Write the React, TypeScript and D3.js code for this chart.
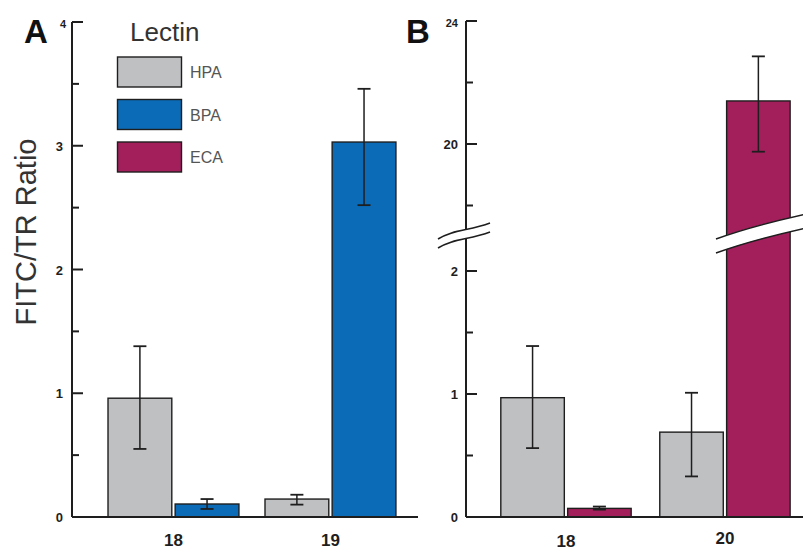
import React from "react";
import * as d3 from "d3";

// ---------- data ----------
const groupsA = ["18", "19"];
const seriesA = ["HPA", "BPA"];
const hpaA = [0.96, 0.145];
const hpaALow = [0.55, 0.1];
const hpaAHigh = [1.38, 0.18];
const bpaA = [0.105, 3.03];
const bpaALow = [0.065, 2.52];
const bpaAHigh = [0.145, 3.46];

const groupsB = ["18", "20"];
const seriesB = ["HPA", "ECA"];
const hpaB = [0.97, 0.69];
const hpaBLow = [0.56, 0.33];
const hpaBHigh = [1.39, 1.01];
const ecaB = [0.07, 21.4];
const ecaBLow = [0.06, 19.75];
const ecaBHigh = [0.085, 22.85];

const ticksA = [0, 1, 2, 3, 4];
const minorA = [0.5, 1.5, 2.5, 3.5];
const ticksBLow = [0, 1, 2];
const minorBLow = [0.5, 1.5];
const ticksBHigh = [20, 24];
const minorBHigh = [18, 22];

const legendItems = ["HPA", "BPA", "ECA"];
const colors: Record<string, string> = {
  HPA: "#bfc0c2",
  BPA: "#0b6bb6",
  ECA: "#a31f5c",
};

const FONT = "'Liberation Sans', Arial, sans-serif";
const INK = "#1e1e1e";

type Bar = { g: string; s: string; v: number; lo: number; hi: number };

export default function App() {
  // ---------- Panel A scales ----------
  const yA = d3.scaleLinear().domain([0, 4]).range([517, 22]);
  const xA = d3
    .scaleBand<string>()
    .domain(groupsA)
    .range([72, 418])
    .paddingInner(0.166)
    .paddingOuter(0.185)
    .align(0.62);
  const xAin = d3
    .scaleBand<string>()
    .domain(seriesA)
    .range([0, xA.bandwidth()])
    .paddingInner(0.05);

  const barsA: Bar[] = [];
  groupsA.forEach((g, i) => {
    barsA.push({ g, s: "HPA", v: hpaA[i], lo: hpaALow[i], hi: hpaAHigh[i] });
    barsA.push({ g, s: "BPA", v: bpaA[i], lo: bpaALow[i], hi: bpaAHigh[i] });
  });

  // ---------- Panel B scales (broken axis) ----------
  const yBLow = d3.scaleLinear().domain([0, 2]).range([517, 271]);
  const yBHigh = d3.scaleLinear().domain([20, 24]).range([144, 21]);
  const yB = (v: number) => (v <= 2.3 ? yBLow(v) : v >= 17 ? yBHigh(v) : yBHigh(17));
  const xB = d3
    .scaleBand<string>()
    .domain(groupsB)
    .range([466, 803])
    .paddingInner(0.18)
    .paddingOuter(0.15)
    .align(0.73);
  const xBin = d3
    .scaleBand<string>()
    .domain(seriesB)
    .range([0, xB.bandwidth()])
    .paddingInner(0.05);

  const barsB: Bar[] = [];
  groupsB.forEach((g, i) => {
    barsB.push({ g, s: "HPA", v: hpaB[i], lo: hpaBLow[i], hi: hpaBHigh[i] });
    barsB.push({ g, s: "ECA", v: ecaB[i], lo: ecaBLow[i], hi: ecaBHigh[i] });
  });

  const renderBars = (
    bars: Bar[],
    xo: d3.ScaleBand<string>,
    xi: d3.ScaleBand<string>,
    y: (v: number) => number
  ) =>
    bars.map((b, k) => {
      const x0 = (xo(b.g) as number) + (xi(b.s) as number);
      const w = xi.bandwidth();
      const cx = x0 + w / 2;
      const y0 = y(0);
      const yt = y(b.v);
      return (
        <g key={k}>
          <rect
            x={x0}
            y={yt}
            width={w}
            height={y0 - yt}
            fill={colors[b.s]}
            stroke={INK}
            strokeWidth={1.4}
          />
          <line x1={cx} x2={cx} y1={y(b.lo)} y2={y(b.hi)} stroke={INK} strokeWidth={1.5} />
          <line x1={cx - 6.5} x2={cx + 6.5} y1={y(b.lo)} y2={y(b.lo)} stroke={INK} strokeWidth={1.8} />
          <line x1={cx - 6.5} x2={cx + 6.5} y1={y(b.hi)} y2={y(b.hi)} stroke={INK} strokeWidth={1.8} />
        </g>
      );
    });

  const tickLabelStyle = {
    fontFamily: FONT,
    fontWeight: 700,
    fontSize: 13,
    fill: INK,
  } as const;

  // wave path helpers for axis break
  const wave = (x0: number, y0: number, x1: number, y1: number) => {
    const w = x1 - x0;
    return `M${x0},${y0} C${x0 + w * 0.3},${y0 - 10} ${x0 + w * 0.6},${y1 + 8} ${x1},${y1}`;
  };
  const waveRev = (x0: number, y0: number, x1: number, y1: number) => {
    const w = x1 - x0;
    return `L${x1},${y1} C${x0 + w * 0.6},${y1 + 8} ${x0 + w * 0.3},${y0 - 10} ${x0},${y0}`;
  };
  const breakBand = (x0: number, y0: number, x1: number, y1: number, gap: number) => (
    <g>
      <path
        d={wave(x0, y0, x1, y1) + waveRev(x0, y0 + gap, x1, y1 + gap) + "Z"}
        fill="#ffffff"
        stroke="none"
      />
      <path d={wave(x0, y0, x1, y1)} fill="none" stroke={INK} strokeWidth={1.5} />
      <path d={wave(x0, y0 + gap, x1, y1 + gap)} fill="none" stroke={INK} strokeWidth={1.5} />
    </g>
  );

  return (
    <svg
      width={803}
      height={550}
      style={{ position: "absolute", left: 0, top: 0, background: "#fff" }}
    >
      {/* ---------- Panel A ---------- */}
      <text x={24} y={43} fontFamily={FONT} fontWeight={700} fontSize={33} fill="#111">
        A
      </text>
      <text
        transform="translate(36,232) rotate(-90)"
        textAnchor="middle"
        fontFamily={FONT}
        fontSize={29}
        fill="#333"
      >
        FITC/TR Ratio
      </text>

      {renderBars(barsA, xA, xAin, yA)}

      {/* y axis A */}
      <line x1={72} x2={72} y1={yA(4)} y2={yA(0)} stroke={INK} strokeWidth={2} />
      {ticksA.map((t) => (
        <g key={"ta" + t}>
          <line x1={72} x2={83} y1={yA(t)} y2={yA(t)} stroke={INK} strokeWidth={2} />
          <text
            x={t === 4 ? 66 : 63}
            y={t === 4 ? yA(t) + 6 : yA(t) + 5}
            textAnchor="end"
            {...tickLabelStyle}
            fontSize={t === 4 ? 11 : 13}
          >
            {t}
          </text>
        </g>
      ))}
      {minorA.map((t) => (
        <line key={"ma" + t} x1={72} x2={79} y1={yA(t)} y2={yA(t)} stroke={INK} strokeWidth={2} />
      ))}
      {/* x axis A */}
      <line x1={72} x2={418} y1={yA(0)} y2={yA(0)} stroke={INK} strokeWidth={2} />
      {groupsA.map((g, i) => (
        <text
          key={"xa" + g}
          x={(xA(g) as number) + xA.bandwidth() / 2}
          y={i === 0 ? 546 : 546}
          textAnchor="middle"
          fontFamily={FONT}
          fontWeight={700}
          fontSize={17}
          fill={INK}
        >
          {g}
        </text>
      ))}

      {/* legend */}
      <text x={130} y={41} fontFamily={FONT} fontSize={26} fill="#333">
        Lectin
      </text>
      {legendItems.map((s, i) => (
        <g key={"lg" + s}>
          <rect
            x={117.5}
            y={57 + i * 42.5}
            width={64}
            height={30}
            fill={colors[s]}
            stroke={INK}
            strokeWidth={1.4}
          />
          <text
            x={190}
            y={57 + i * 42.5 + 21}
            fontFamily={FONT}
            fontSize={16}
            fill="#555"
          >
            {s}
          </text>
        </g>
      ))}

      {/* ---------- Panel B ---------- */}
      <text x={406} y={43} fontFamily={FONT} fontWeight={700} fontSize={33} fill="#111">
        B
      </text>

      {renderBars(barsB, xB, xBin, yB)}

      {/* y axis B */}
      <line x1={466} x2={466} y1={yB(24)} y2={yB(0)} stroke={INK} strokeWidth={2} />
      {ticksBLow.map((t) => (
        <g key={"tbl" + t}>
          <line x1={466} x2={477} y1={yBLow(t)} y2={yBLow(t)} stroke={INK} strokeWidth={2} />
          <text x={458} y={yBLow(t) + 5} textAnchor="end" {...tickLabelStyle}>
            {t}
          </text>
        </g>
      ))}
      {minorBLow.map((t) => (
        <line key={"mbl" + t} x1={466} x2={473} y1={yBLow(t)} y2={yBLow(t)} stroke={INK} strokeWidth={2} />
      ))}
      {ticksBHigh.map((t) => (
        <g key={"tbh" + t}>
          <line x1={466} x2={477} y1={yBHigh(t)} y2={yBHigh(t)} stroke={INK} strokeWidth={2} />
          <text
            x={458}
            y={t === 24 ? yBHigh(t) + 6 : yBHigh(t) + 5}
            textAnchor="end"
            {...tickLabelStyle}
            fontSize={t === 24 ? 11 : 13}
          >
            {t}
          </text>
        </g>
      ))}
      {minorBHigh.map((t) => (
        <line key={"mbh" + t} x1={466} x2={473} y1={yBHigh(t)} y2={yBHigh(t)} stroke={INK} strokeWidth={2} />
      ))}
      {/* x axis B */}
      <line x1={466} x2={803} y1={yB(0)} y2={yB(0)} stroke={INK} strokeWidth={2} />
      {groupsB.map((g, i) => (
        <text
          key={"xb" + g}
          x={(xB(g) as number) + xB.bandwidth() / 2}
          y={i === 0 ? 547 : 544}
          textAnchor="middle"
          fontFamily={FONT}
          fontWeight={700}
          fontSize={17}
          fill={INK}
        >
          {g}
        </text>
      ))}

      {/* axis break marks */}
      {breakBand(438, 239, 490, 223, 9)}
      {breakBand(716, 239, 806, 214, 14)}
    </svg>
  );
}
